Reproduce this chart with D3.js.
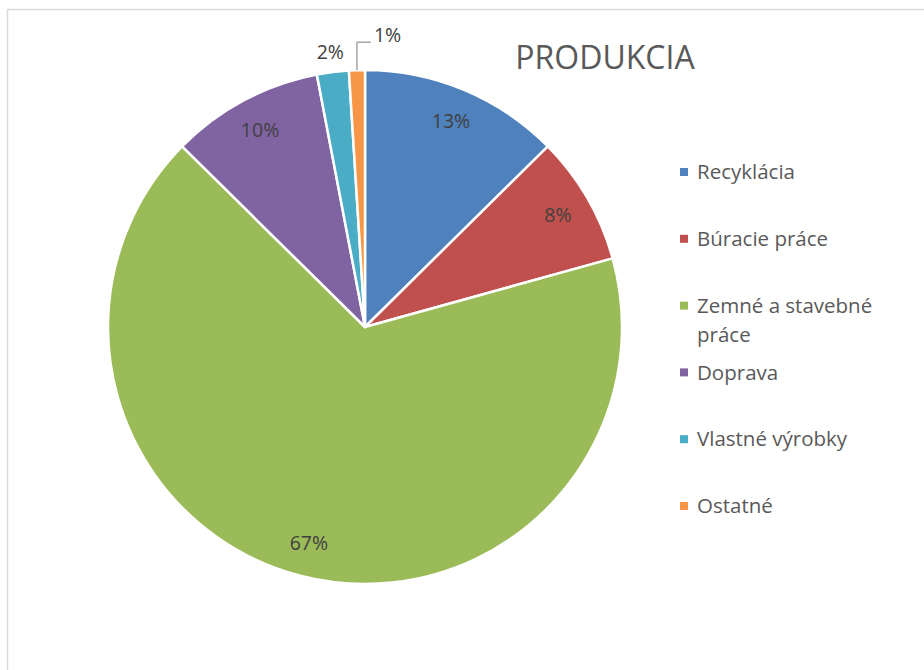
<!DOCTYPE html>
<html>
<head>
<meta charset="utf-8">
<script src="https://cdn.jsdelivr.net/npm/d3@7"></script>
<style>
  body { margin: 0; background: #fff; }
  svg { display: block; font-family: "Open Sans", sans-serif; }
</style>
</head>
<body>
<svg id="chart" width="924" height="670"></svg>
<script>
// data
const categories = ["Recyklácia", "Búracie práce", "Zemné a stavebné práce", "Doprava", "Vlastné výrobky", "Ostatné"];
const legendLines = [["Recyklácia"], ["Búracie práce"], ["Zemné a stavebné", "práce"], ["Doprava"], ["Vlastné výrobky"], ["Ostatné"]];
const values = [12.6, 8.1, 66.7, 9.6, 2.0, 1.0];
const colors = ["#4F81BD", "#C0504D", "#9BBB59", "#8064A2", "#4BACC6", "#F79646"];
const title = "PRODUKCIA";

let svg = d3.select("#chart");

// chart frame (runs off the right / bottom edge)
svg.append("rect")
    .attr("x", 7.5).attr("y", 9.5)
    .attr("width", 1000).attr("height", 1000)
    .attr("fill", "none")
    .attr("stroke", "#d9d9d9")
    .attr("stroke-width", 1.5);

let cx = 365, cy = 327, radius = 257;

let pie = d3.pie().sort(null).value(d => d);
let arcs = pie(values);
let total = d3.sum(values);

let arc = d3.arc().innerRadius(0).outerRadius(radius);
let labelArc = d3.arc().innerRadius(223).outerRadius(223);

let g = svg.append("g").attr("transform", `translate(${cx},${cy})`);

g.selectAll(".slice")
    .data(arcs)
    .enter().append("path")
    .attr("class", "slice")
    .attr("d", arc)
    .attr("fill", (d, i) => colors[i])
    .attr("stroke", "#fff")
    .attr("stroke-width", 2.5)
    .attr("stroke-linejoin", "round");

function pct(d) {
    return Math.round(d.value / total * 100) + "%";
}

// inside labels for the big slices
g.selectAll(".label")
    .data(arcs.filter(d => d.value / total > 0.05))
    .enter().append("text")
    .attr("class", "label")
    .attr("transform", d => `translate(${labelArc.centroid(d)})`)
    .attr("text-anchor", "middle")
    .attr("dy", "0.35em")
    .attr("font-size", 19.5)
    .attr("fill", "#404040")
    .text(pct);

// small slices: labels outside
let small = arcs.filter(d => d.value / total <= 0.05);
let mid = d => (d.startAngle + d.endAngle) / 2;

// 2% just outside the edge
let d2 = small[0];
g.append("text")
    .attr("x", Math.sin(mid(d2)) * 277)
    .attr("y", -Math.cos(mid(d2)) * 277)
    .attr("text-anchor", "middle")
    .attr("dy", "0.35em")
    .attr("font-size", 19.5)
    .attr("fill", "#404040")
    .text(pct(d2));

// 1% with a leader line
let d1 = small[1];
let sx = Math.sin(mid(d1)) * radius, sy = -Math.cos(mid(d1)) * radius;
let ly = sy - 28;
g.append("path")
    .attr("d", `M${sx},${sy}V${ly}H${sx + 14}`)
    .attr("fill", "none")
    .attr("stroke", "#a6a6a6")
    .attr("stroke-width", 1.5);
g.append("text")
    .attr("x", sx + 17)
    .attr("y", ly - 7)
    .attr("dy", "0.35em")
    .attr("font-size", 19.5)
    .attr("fill", "#404040")
    .text(pct(d1));

// title
svg.append("text")
    .attr("x", 605).attr("y", 69)
    .attr("text-anchor", "middle")
    .attr("font-size", 32)
    .attr("fill", "#595959")
    .text(title);

// legend
let legendY = d3.scalePoint().domain(categories).range([172, 506]);
let legend = svg.append("g").selectAll(".legend")
    .data(categories)
    .enter().append("g")
    .attr("class", "legend")
    .attr("transform", d => `translate(680,${legendY(d)})`);

legend.append("rect")
    .attr("x", 0).attr("y", -4)
    .attr("width", 8).attr("height", 8)
    .attr("fill", (d, i) => colors[i]);

legend.append("text")
    .attr("x", 17)
    .attr("font-size", 20.5)
    .attr("fill", "#595959")
    .selectAll("tspan")
    .data((d, i) => legendLines[i])
    .enter().append("tspan")
    .attr("x", 17)
    .attr("y", (d, j) => j * 29)
    .attr("dy", "0.35em")
    .text(d => d);
</script>
</body>
</html>
